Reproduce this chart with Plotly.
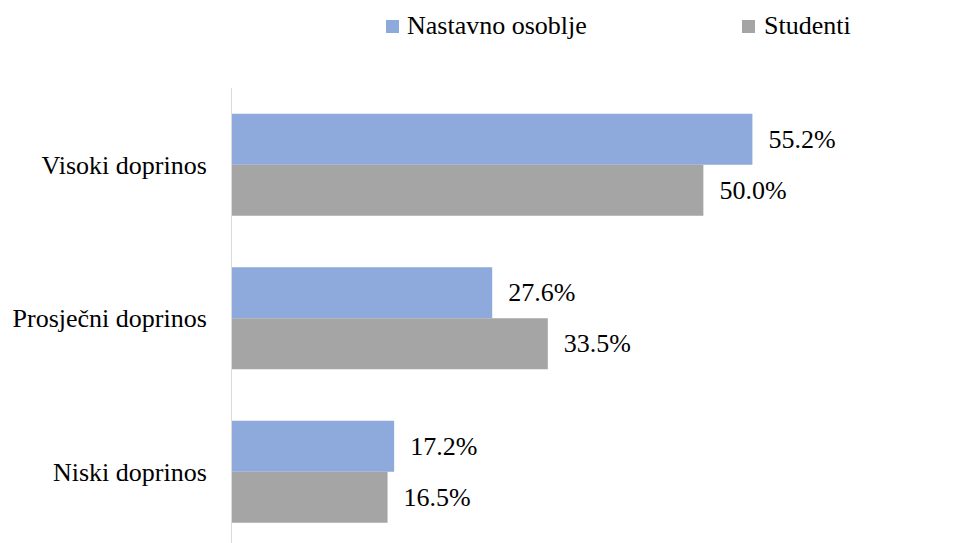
import plotly.graph_objects as go

# Data
categories = ["Visoki doprinos", "Prosječni doprinos", "Niski doprinos"]
series_names = ["Nastavno osoblje", "Studenti"]
staff_values = [55.2, 27.6, 17.2]
student_values = [50.0, 33.5, 16.5]
series_colors = ["#8EA9DB", "#A5A5A5"]

FONT = "Liberation Serif"
W, H = 973, 543
M_L, M_R, M_T, M_B = 232, 0, 88, 0
PLOT_W = W - M_L - M_R
PLOT_H = H - M_T - M_B


def paper_x(px):
    return (px - M_L) / PLOT_W


def paper_y(py):
    return 1 - (py - M_T) / PLOT_H


fig = go.Figure()
for name, vals, color in zip(series_names, [staff_values, student_values], series_colors):
    fig.add_trace(go.Bar(
        name=name,
        y=categories,
        x=vals,
        orientation="h",
        marker=dict(color=color, line=dict(width=0)),
        texttemplate="\u00a0\u00a0%{x:.1f}%",
        textposition="outside",
        constraintext="none",
        cliponaxis=False,
        textfont=dict(family=FONT, size=26, color="#000000"),
        showlegend=False,
    ))

# Legend: colored squares followed by series names
legend_items = [(386, 405), (742, 762)]
for (sq_x, txt_x), name, color in zip(legend_items, series_names, series_colors):
    fig.add_shape(type="rect", xref="paper", yref="paper",
                  x0=paper_x(sq_x), x1=paper_x(sq_x + 13),
                  y0=paper_y(33), y1=paper_y(20),
                  fillcolor=color, line=dict(width=0))
    fig.add_annotation(xref="paper", yref="paper", x=paper_x(txt_x), y=paper_y(25.5),
                       xanchor="left", yanchor="middle", showarrow=False,
                       text=name, font=dict(family=FONT, size=26, color="#000000"))

fig.update_layout(
    width=W, height=H,
    margin=dict(l=M_L, r=M_R, t=M_T, b=M_B, pad=0),
    barmode="group", bargap=0.335, bargroupgap=0,
    plot_bgcolor="white", paper_bgcolor="white",
    font=dict(family=FONT, size=26, color="#000000"),
    xaxis=dict(range=[0, 78.6], showgrid=False, zeroline=False, showline=False,
               showticklabels=False, ticks=""),
    yaxis=dict(range=[2.464, -0.5], showgrid=False, zeroline=False,
               showline=True, linecolor="#D9D9D9", linewidth=1,
               ticks="", ticklabelstandoff=19,
               tickfont=dict(family=FONT, size=26, color="#000000")),
)

fig.write_html("out.html")
